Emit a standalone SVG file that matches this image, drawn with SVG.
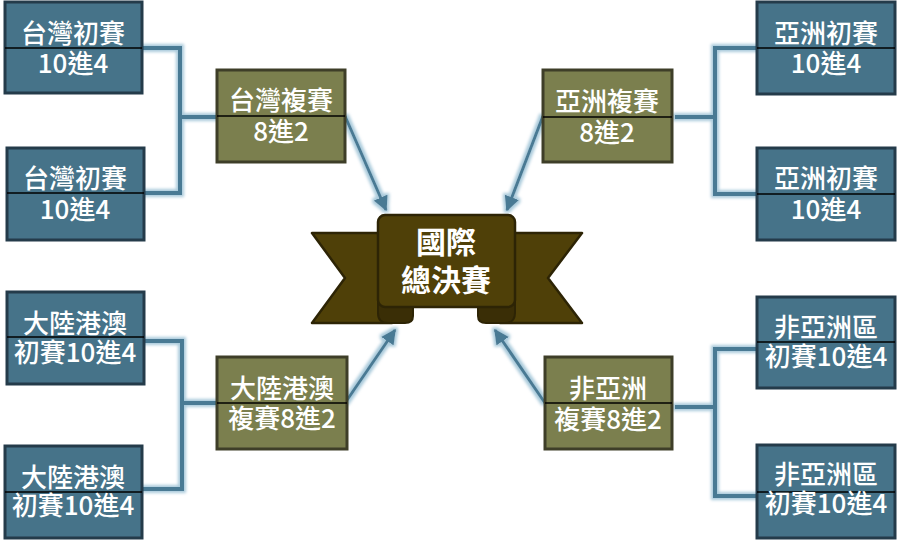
<svg xmlns="http://www.w3.org/2000/svg" width="900" height="540" viewBox="0 0 900 540">
<style>
.b{fill:#467389;stroke:#243b4a;stroke-width:3}
.o{fill:#7b7f4e;stroke:#3e3e28;stroke-width:3}
.d{stroke:#000;stroke-width:1.3}
.t{fill:#fff;font-family:"Noto Sans CJK TC","Noto Sans CJK SC",sans-serif;font-size:26px;font-weight:500;text-anchor:middle}
.c{fill:none;stroke:#4a7a94;stroke-width:4}
.a{fill:none;stroke:#4a7a94;stroke-width:3;marker-end:url(#ah)}
.rib{fill:#4f4008;stroke:#2d2405;stroke-width:2.5;stroke-linejoin:round}
.fold{fill:#3a2e06;stroke:#2d2405;stroke-width:2}
.ct{fill:#fff;font-family:"Noto Sans CJK TC","Noto Sans CJK SC",sans-serif;font-size:30px;font-weight:bold;text-anchor:middle}
</style>
<defs>
<filter id="glow" filterUnits="userSpaceOnUse" x="0" y="0" width="900" height="540">
<feMorphology in="SourceAlpha" operator="dilate" radius="2" result="d"/>
<feGaussianBlur in="d" stdDeviation="1.6" result="bl"/>
<feFlood flood-color="#a9cadb"/>
<feComposite in2="bl" operator="in" result="g"/>
<feMerge><feMergeNode in="g"/><feMergeNode in="SourceGraphic"/></feMerge>
</filter>
<marker id="ah" viewBox="0 0 10 10" refX="9" refY="5" markerWidth="5" markerHeight="5" orient="auto" markerUnits="strokeWidth">
<path d="M0,0 L10,5 L0,10 Z" fill="#4a7a94"/>
</marker>
</defs>
<rect width="900" height="540" fill="#fff"/>
<g id="connectors" filter="url(#glow)">
<path class="c" d="M142,48 H180 V193 H144 M180,117 H217"/>
<path class="c" d="M757,48 H715 V194 H757 M715,117 H675"/>
<path class="c" d="M144,341 H182 V489 H142 M182,403 H217"/>
<path class="c" d="M757,349 H715 V496 H757 M715,407 H675"/>
<path class="a" d="M345,116 L386,210"/>
<path class="a" d="M543,116 L507,210"/>
<path class="a" d="M345,403 L395,330"/>
<path class="a" d="M545,403 L495,330"/>
</g>
<g id="n_tw1"><rect class="b" x="5" y="2" width="137" height="91"/><line class="d" x1="5" y1="48" x2="142" y2="48"/><text class="t" x="73" y="43">台灣初賽<tspan x="73" dy="30">10進4</tspan></text></g>
<g id="n_tw2"><rect class="b" x="7" y="148" width="137" height="92"/><line class="d" x1="7" y1="193" x2="144" y2="193"/><text class="t" x="75" y="188">台灣初賽<tspan x="75" dy="31">10進4</tspan></text></g>
<g id="n_tw_semi"><rect class="o" x="217" y="70" width="128" height="92"/><line class="d" x1="217" y1="116" x2="345" y2="116"/><text class="t" x="281" y="110">台灣複賽<tspan x="281" dy="31">8進2</tspan></text></g>
<g id="n_as1"><rect class="b" x="757" y="2" width="138" height="92"/><line class="d" x1="757" y1="48" x2="895" y2="48"/><text class="t" x="826" y="43">亞洲初賽<tspan x="826" dy="30">10進4</tspan></text></g>
<g id="n_as2"><rect class="b" x="757" y="148" width="138" height="92"/><line class="d" x1="757" y1="194" x2="895" y2="194"/><text class="t" x="826" y="188">亞洲初賽<tspan x="826" dy="31">10進4</tspan></text></g>
<g id="n_as_semi"><rect class="o" x="543" y="70" width="129" height="92"/><line class="d" x1="543" y1="117" x2="672" y2="117"/><text class="t" x="607" y="111">亞洲複賽<tspan x="607" dy="31">8進2</tspan></text></g>
<g id="n_cn1"><rect class="b" x="7" y="292" width="137" height="92"/><line class="d" x1="7" y1="337" x2="144" y2="337"/><text class="t" x="75" y="333">大陸港澳<tspan x="75" dy="29">初賽10進4</tspan></text></g>
<g id="n_cn2"><rect class="b" x="5" y="446" width="137" height="92"/><line class="d" x1="5" y1="492" x2="142" y2="492"/><text class="t" x="73" y="487">大陸港澳<tspan x="73" dy="28">初賽10進4</tspan></text></g>
<g id="n_cn_semi"><rect class="o" x="217" y="357" width="130" height="92"/><line class="d" x1="217" y1="403" x2="347" y2="403"/><text class="t" x="282" y="398">大陸港澳<tspan x="282" dy="30">複賽8進2</tspan></text></g>
<g id="n_na1"><rect class="b" x="757" y="297" width="138" height="91"/><line class="d" x1="757" y1="342" x2="895" y2="342"/><text class="t" x="826" y="337">非亞洲區<tspan x="826" dy="29">初賽10進4</tspan></text></g>
<g id="n_na2"><rect class="b" x="757" y="445" width="138" height="93"/><line class="d" x1="757" y1="492" x2="895" y2="492"/><text class="t" x="826" y="484">非亞洲區<tspan x="826" dy="29">初賽10進4</tspan></text></g>
<g id="n_na_semi"><rect class="o" x="545" y="357" width="127" height="92"/><line class="d" x1="545" y1="403" x2="672" y2="403"/><text class="t" x="608" y="398">非亞洲<tspan x="608" dy="31">複賽8進2</tspan></text></g>
<g id="n_final">
<path class="rib" d="M312,233 L392,233 L392,323 L312,323 L345,278 Z"/>
<path class="rib" d="M582,233 L500,233 L500,323 L582,323 L548,278 Z"/>
<path class="fold" d="M378,298 L413,298 L413,316 Q413,323 405,323 L388,323 Q378,323 378,313 Z"/>
<path class="fold" d="M515,298 L478,298 L478,316 Q478,323 486,323 L505,323 Q515,323 515,313 Z"/>
<rect class="rib" x="378" y="215" width="137" height="92" rx="7"/>
<text class="ct" x="446" y="253">國際<tspan x="446" dy="38">總決賽</tspan></text>
</g>
</svg>
